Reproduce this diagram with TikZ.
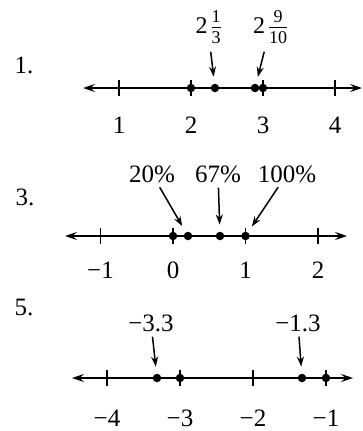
\documentclass[tikz,border=0pt]{standalone}
\usepackage{amsmath}
\usepackage{fontspec}
\setmainfont{Liberation Serif}
\usetikzlibrary{arrows.meta, positioning}

\newcommand{\mixnum}[3]{#1\,{\fontsize{18}{18}\selectfont\setlength{\arrayrulewidth}{0.7pt}%
    \begin{tabular}{@{}c@{}}#2\\\hline\rule{0pt}{15pt}#3\end{tabular}}}

\begin{document}
\begin{tikzpicture}[x=1pt, y=-1pt,
                numline/.style={line width=1.6pt, {Stealth[length=12pt,width=8pt,inset=4.5pt]}-{Stealth[length=12pt,width=8pt,inset=4.5pt]}},
                tickmark/.style={line width=1.1pt},
                ptdot/.style={circle, fill=black, inner sep=0pt, minimum size=8.5pt},
                lbl/.style={font=\fontsize{25}{29}\selectfont, inner sep=2pt},
                mixlbl/.style={font=\fontsize{24}{28}\selectfont, inner sep=0pt},
                pointer/.style={-{Stealth[length=10pt,width=7pt]}, line width=1.5pt, shorten <=3pt, shorten >=7pt}
            ]
                \useasboundingbox (0,0) rectangle (363,431);

                % problem 1
                \node[lbl] (item1) at (24,65) {1.};
                \coordinate (l1a) at (83,88);
                \coordinate (l1b) at (362,88);
                \draw[numline] (l1a) -- (l1b);
                \foreach \v in {1,2,3,4} {
                    \draw[tickmark] (47+72*\v,80) -- ++(0,16);
                    \node[lbl] (n1-\v) at (47+72*\v,125) {\v};
                }
                \node[ptdot] (d1a) at (191,88) {};
                \node[ptdot] (d1b) at (215,88) {};
                \node[ptdot] (d1c) at (255,88) {};
                \node[ptdot] (d1d) at (263,88) {};
                \node[mixlbl] (f1b) at (208,29) {\mixnum{2}{1}{3}};
                \node[mixlbl] (f1c) at (270,29) {\mixnum{2}{9}{10}};
                \draw[pointer] (f1b) -- (d1b);
                \draw[pointer] (f1c) -- (d1c);

                % problem 3
                \node[lbl] (item3) at (25,197) {3.};
                \coordinate (l3a) at (65,236);
                \coordinate (l3b) at (347,236);
                \draw[numline] (l3a) -- (l3b);
                \foreach \v/\t in {-1/−1,0/0,1/1,2/2} {
                    \draw[tickmark] (173+72.5*\v,228) -- ++(0,16);
                    \node[lbl] (n3-\v) at (173+72.5*\v,270) {\t};
                }
                \node[ptdot] (d3a) at (173,236) {};
                \node[ptdot] (d3b) at (188,236) {};
                \node[ptdot] (d3c) at (220,236) {};
                \node[ptdot] (d3d) at (245.5,236) {};
                \node[lbl] (p3b) at (152,174) {20\%};
                \node[lbl] (p3c) at (218,174) {67\%};
                \node[lbl] (p3d) at (287,174) {100\%};
                \draw[pointer] (p3b) -- (d3b);
                \draw[pointer] (p3c) -- (d3c);
                \draw[pointer] (p3d) -- (d3d);

                % problem 5
                \node[lbl] (item5) at (24,307) {5.};
                \coordinate (l5a) at (72,378);
                \coordinate (l5b) at (353,378);
                \draw[numline] (l5a) -- (l5b);
                \foreach \v in {-4,-3,-2,-1} {
                    \draw[tickmark] (399+73*\v,370) -- ++(0,16);
                    \node[lbl, inner sep=0pt] (n5\v) at (399+73*\v,418) {−\the\numexpr-\v\relax};
                }
                \node[ptdot] (d5a) at (157,378) {};
                \node[ptdot] (d5b) at (180,378) {};
                \node[ptdot] (d5c) at (302,378) {};
                \node[ptdot] (d5d) at (326,378) {};
                \node[lbl] (p5a) at (151,323) {−3.3};
                \node[lbl] (p5c) at (298,323) {−1.3};
                \draw[pointer] (p5a) -- (d5a);
                \draw[pointer] (p5c) -- (d5c);
            \end{tikzpicture}
\end{document}
